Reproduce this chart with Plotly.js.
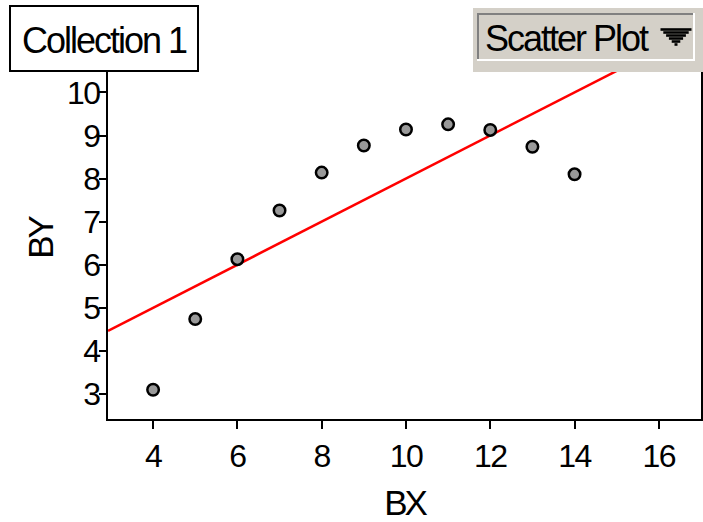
<!DOCTYPE html>
<html>
<head>
<meta charset="utf-8">
<script src="https://cdn.plot.ly/plotly-3.0.1.min.js"></script>
<style>
html,body{margin:0;padding:0;background:#fff;}
#chart{width:703px;height:522px;}
#chart .xtick text, #chart .ytick text{letter-spacing:-1.5px;}
#chart .annotation-text{letter-spacing:-2px;}
#chart .xtitle, #chart .ytitle{letter-spacing:-3px;}
</style>
</head>
<body>
<div id="chart"></div>
<script>
// Data (Anscombe set II as shown)
const bx = [10, 8, 13, 9, 11, 14, 6, 4, 12, 7, 5];
const by = [9.14, 8.14, 8.74, 8.77, 9.26, 8.10, 6.13, 3.10, 9.13, 7.26, 4.74];
const xTickVals = [4, 6, 8, 10, 12, 14, 16];
const yTickVals = [3, 4, 5, 6, 7, 8, 9, 10];
const xTitle = "BX";
const yTitle = "BY";
const collectionLabel = "Collection 1";
const menuLabel = "Scatter Plot";

const xRange = [2.93, 17.0];
const yRange = [2.42, 10.8];

// least-squares fit from data
const n = bx.length;
const mx = bx.reduce((a,b)=>a+b,0)/n;
const my = by.reduce((a,b)=>a+b,0)/n;
let sxy=0, sxx=0;
for(let i=0;i<n;i++){sxy+=(bx[i]-mx)*(by[i]-my);sxx+=(bx[i]-mx)**2;}
const slope = sxy/sxx, intercept = my - slope*mx;
const fitX = [xRange[0], xRange[1]];
const fitY = fitX.map(v=>intercept+slope*v);

const W=703,H=522, mL=108, mR=2, mT=58, mB=103;
const pw=W-mL-mR, ph=H-mT-mB;
const px = v=>(v-mL)/pw;
const py = v=>(H-mB-v)/ph;

const FONT = '"Liberation Sans", Arial, Helvetica, sans-serif';

const traces = [
  {x: fitX, y: fitY, mode:'lines', line:{color:'#ff0000', width:2.5}, hoverinfo:'skip', showlegend:false},
  {x: bx, y: by, mode:'markers', marker:{size:11.5, color:'#999999', line:{color:'#000', width:2.5}}, showlegend:false}
];

const shapes = [
  // Collection box
  {type:'rect', xref:'paper', yref:'paper', x0:px(10), x1:px(198), y0:py(71), y1:py(6), fillcolor:'#ffffff', line:{color:'#000', width:2}, layer:'above'},
  // Scatter plot menu outer
  {type:'rect', xref:'paper', yref:'paper', x0:px(473), x1:px(704), y0:py(72), y1:py(8), fillcolor:'#d4d0c8', line:{width:0}, layer:'above'},
  // sunken border: dark top/left
  {type:'line', xref:'paper', yref:'paper', x0:px(477), x1:px(694), y0:py(14), y1:py(14), line:{color:'#808080', width:2}, layer:'above'},
  {type:'line', xref:'paper', yref:'paper', x0:px(478), x1:px(478), y0:py(13), y1:py(61), line:{color:'#808080', width:2}, layer:'above'},
  // white bottom/right
  {type:'line', xref:'paper', yref:'paper', x0:px(477), x1:px(695), y0:py(60), y1:py(60), line:{color:'#ffffff', width:2}, layer:'above'},
  {type:'line', xref:'paper', yref:'paper', x0:px(694), x1:px(694), y0:py(13), y1:py(61), line:{color:'#ffffff', width:2}, layer:'above'}
];
// striped triangle icon
for(let k=0;k<6;k++){
  const yy = 29.5 + k*3;
  const half = 15.5 - k*2.8;
  shapes.push({type:'line', xref:'paper', yref:'paper', x0:px(676-half), x1:px(676+half), y0:py(yy), y1:py(yy), line:{color:'#000', width:2.6}, layer:'above'});
}

const annotations = [
  {xref:'paper', yref:'paper', x:px(104), y:py(40), text:collectionLabel, showarrow:false, xanchor:'center', yanchor:'middle', font:{family:FONT, size:36, color:'#000'}},
  {xref:'paper', yref:'paper', x:px(566), y:py(38), text:menuLabel, showarrow:false, xanchor:'center', yanchor:'middle', font:{family:FONT, size:36, color:'#000'}}
];

const layout = {
  width:W, height:H,
  margin:{l:mL, r:mR, t:mT, b:mB, pad:0},
  paper_bgcolor:'#fff', plot_bgcolor:'#fff',
  showlegend:false,
  font:{family:FONT, color:'#000', size:32},
  xaxis:{
    range:xRange, tickvals:xTickVals, ticktext:xTickVals.map(String),
    showgrid:false, zeroline:false, showline:true, linecolor:'#000', linewidth:2,
    ticks:'outside', ticklen:8, tickwidth:2, tickcolor:'#000',
    tickfont:{family:FONT, size:32},
    title:{text:xTitle, font:{family:FONT, size:35}, standoff:17},
    automargin:false
  },
  yaxis:{
    range:yRange, tickvals:yTickVals, ticktext:yTickVals.map(String),
    showgrid:false, zeroline:false, showline:true, mirror:true, linecolor:'#000', linewidth:2,
    ticks:'outside', ticklen:7, tickwidth:2, tickcolor:'#000',
    tickfont:{family:FONT, size:32}, ticklabelstandoff:-7,
    title:{text:yTitle, font:{family:FONT, size:35}, standoff:0},
    automargin:false
  },
  shapes:shapes,
  annotations:annotations
};

Plotly.newPlot('chart', traces, layout, {staticPlot:true, displayModeBar:false});
</script>
</body>
</html>
